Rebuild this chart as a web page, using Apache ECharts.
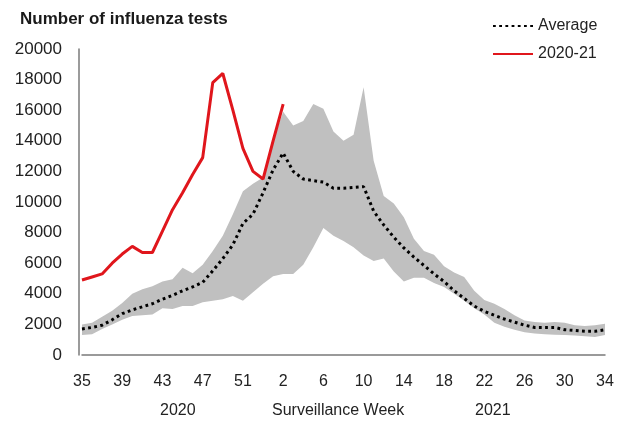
<!DOCTYPE html>
<html>
<head>
<meta charset="utf-8">
<script src="https://cdn.jsdelivr.net/npm/echarts@6/dist/echarts.min.js"></script>
<style>html,body{margin:0;padding:0;background:#fff;}#c{width:618px;height:421px;}</style>
</head>
<body>
<div id="c"></div>
<script>
var weeks = [35,36,37,38,39,40,41,42,43,44,45,46,47,48,49,50,51,52,53,1,2,3,4,5,6,7,8,9,10,11,12,13,14,15,16,17,18,19,20,21,22,23,24,25,26,27,28,29,30,31,32,33,34];
var average = [1700,1800,1950,2300,2700,2950,3150,3350,3650,3900,4200,4450,4750,5500,6300,7200,8600,9200,10600,12100,13200,12000,11500,11400,11300,10900,10900,10950,11000,9400,8500,7700,7000,6400,5850,5300,4800,4200,3700,3200,2850,2600,2350,2150,1950,1800,1800,1800,1650,1600,1550,1550,1650];
var rangeMin = [1300,1350,1700,2000,2300,2550,2600,2650,3050,3000,3200,3200,3450,3550,3650,3850,3550,4100,4650,5150,5300,5300,5900,7050,8300,7800,7450,7050,6500,6150,6300,5450,4800,5050,5050,4700,4450,4000,3550,3050,2650,2100,1850,1650,1480,1400,1350,1330,1310,1280,1220,1180,1300];
var rangeMax = [2000,2100,2500,2900,3400,4000,4300,4500,4800,4950,5700,5350,5900,6800,7800,9200,10700,11200,11600,14000,15900,15000,15300,16400,16100,14600,14000,14400,17500,12700,10400,9900,9000,7600,6800,6550,5800,5400,5100,4200,3600,3350,3000,2600,2250,2150,2100,2150,2100,1950,1900,1950,2050];
var season2021 = [4900,5100,5300,6000,6600,7100,6700,6700,8100,9500,10600,11800,12900,17800,18400,16000,13500,12000,11500,14000,16400];
var tickWeeks = [35,39,43,47,51,2,6,10,14,18,22,26,30,34];

var cats = weeks.map(String);
var FONT = '"Liberation Sans", Arial, sans-serif';
var chart = echarts.init(document.getElementById('c'), null, {renderer:'canvas'});
chart.setOption({
  animation: false,
  backgroundColor: '#ffffff',
  textStyle: {fontFamily: FONT},
  title: {text: 'Number of influenza tests', left: 20, top: 11, padding: 0,
    textStyle: {fontSize: 17, fontWeight: 'bold', color: '#1a1a1a', fontFamily: FONT}},
  legend: {
    data: ['Average', '2020-21'], orient: 'vertical', left: 487, top: 13,
    itemWidth: 40, itemHeight: 4, itemGap: 12,
    itemStyle: {opacity: 0},
    textStyle: {fontSize: 16, color: '#222', fontFamily: FONT, padding: [0,0,0,0]}
  },
  grid: {left: 82, right: 13, top: 49, bottom: 66, containLabel: false},
  xAxis: {
    type: 'category', data: cats, boundaryGap: false,
    axisLine: {show: true, lineStyle: {color: '#7a7a7a', width: 1.5}},
    axisTick: {show: false},
    splitLine: {show: false},
    axisLabel: {
      interval: 3,
      fontSize: 16, color: '#222', margin: 19, fontFamily: FONT
    }
  },
  yAxis: {
    type: 'value', min: 0, max: 20000, interval: 2000, offset: 3,
    axisLine: {show: true, lineStyle: {color: '#7a7a7a', width: 1.5}},
    axisTick: {show: false},
    splitLine: {show: false},
    axisLabel: {fontSize: 17, color: '#222', margin: 17, fontFamily: FONT,
      formatter: function(v){ return String(v); }}
  },
  graphic: [
    {type: 'text', left: 160, top: 403, style: {text: '2020', font: '16px ' + FONT, fill: '#222'}},
    {type: 'text', left: 272, top: 403, style: {text: 'Surveillance Week', font: '16px ' + FONT, fill: '#222'}},
    {type: 'text', left: 475, top: 403, style: {text: '2021', font: '16px ' + FONT, fill: '#222'}}
  ],
  series: [
    {name: 'rangeLow', type: 'line', stack: 'band', data: rangeMin, symbol: 'none',
      lineStyle: {width: 0, opacity: 0}, areaStyle: {opacity: 0}, silent: true, z: 1},
    {name: 'rangeBand', type: 'line', stack: 'band',
      data: rangeMax.map(function(v,i){ return v - rangeMin[i]; }), symbol: 'none',
      lineStyle: {width: 0, opacity: 0}, areaStyle: {color: '#c0c0c0', opacity: 1}, silent: true, z: 1},
    {name: 'Average', type: 'line', data: average, symbol: 'none',
      lineStyle: {color: '#000000', width: 3, type: [2.8, 3.4]}, itemStyle: {color: '#000'}, z: 3},
    {name: '2020-21', type: 'line', data: season2021, symbol: 'none',
      lineStyle: {color: '#e0161c', width: 3}, itemStyle: {color: '#e0161c'}, z: 4}
  ]
});
</script>
</body>
</html>
